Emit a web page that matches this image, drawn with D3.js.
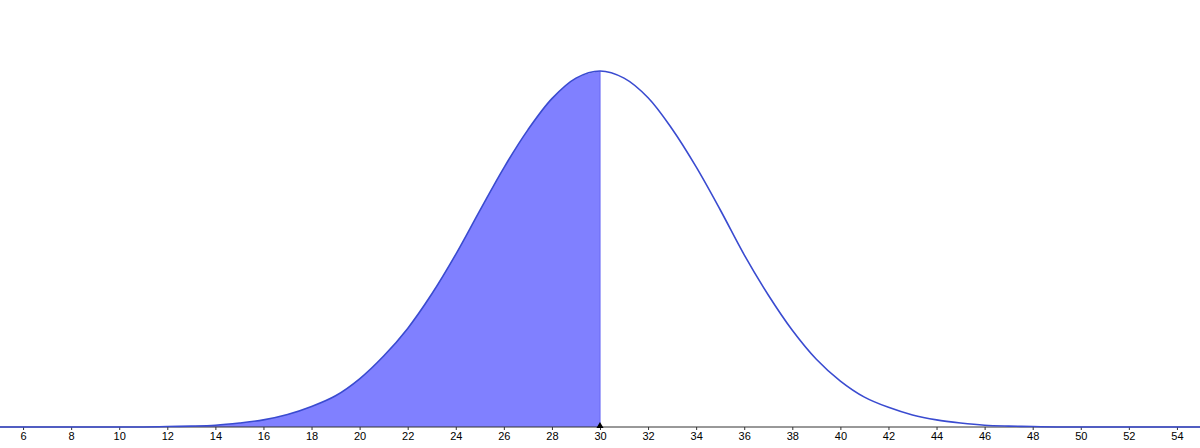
<!DOCTYPE html>
<html>
<head>
<meta charset="utf-8">
<script src="https://cdn.jsdelivr.net/npm/d3@7"></script>
<style>
  html, body { margin: 0; padding: 0; background: #fff; }
  svg { display: block; }
</style>
</head>
<body>
<svg id="chart" width="1200" height="448"></svg>
<script>
// x values (integers) and curve heights (density units)
const xValues = [5,6,7,8,9,10,11,12,13,14,15,16,17,18,19,20,21,22,23,24,25,26,27,28,29,30,
                 31,32,33,34,35,36,37,38,39,40,41,42,43,44,45,46,47,48,49,50,51,52,53,54,55];
const density = [0,0,0,0,0,0,0,0.0001,0.0002,0.0004,0.0009,0.0016,0.0028,0.0046,0.0070,0.0108,0.0159,0.0221,0.0298,0.0387,0.0485,0.0581,0.0666,0.0736,0.0782,0.0798,
                 0.0782,0.0738,0.0668,0.0583,0.0487,0.0386,0.0296,0.0217,0.0152,0.0103,0.0067,0.0044,0.0027,0.0016,0.0009,0.0004,0.0002,0.0001,0,0,0,0,0,0,0];
const tickValues = [6,8,10,12,14,16,18,20,22,24,26,28,30,32,34,36,38,40,42,44,46,48,50,52,54];
const shadeTo = 30;

const W = 1200, H = 448;
const svg = d3.select("#chart");

const x = d3.scaleLinear().domain([5.04, 54.96]).range([0, W]);
const y = d3.scaleLinear().domain([0, 0.0798]).range([427, 71]);

const pts = xValues.map((v, i) => ({x: v, y: density[i]}));
const leftPts = pts.filter(d => d.x <= shadeTo);
const curve = d3.curveCatmullRom.alpha(0.5);

// shaded area
svg.append("path")
  .datum(leftPts)
  .attr("fill", "#8080ff")
  .attr("stroke", "none")
  .attr("d", d3.area().x(d => x(d.x)).y0(y(0)).y1(d => Math.min(y(0), y(d.y))).curve(curve));

// vertical boundary at shadeTo
svg.append("line")
  .attr("x1", x(shadeTo)).attr("x2", x(shadeTo))
  .attr("y1", y(0)).attr("y2", y(density[xValues.indexOf(shadeTo)]))
  .attr("stroke", "#6f6ff5").attr("stroke-width", 1.2);

// axis
const axisG = svg.append("g")
  .attr("transform", `translate(0,${y(0)})`)
  .call(d3.axisBottom(x).tickValues(tickValues).tickSize(3).tickPadding(2).tickFormat(d3.format("d")));
axisG.select(".domain").remove();
axisG.selectAll(".tick line").attr("stroke", "#333");
axisG.selectAll(".tick text")
  .attr("fill", "#000")
  .style("font-family", "'Liberation Sans', Arial, sans-serif")
  .style("font-size", "11px");
svg.append("line")
  .attr("x1", 0).attr("x2", W)
  .attr("y1", y(0)).attr("y2", y(0))
  .attr("stroke", "#333").attr("stroke-width", 1);

// curve
svg.append("path")
  .datum(pts)
  .attr("fill", "none")
  .attr("stroke", "#3a4bd0")
  .attr("stroke-width", 1.6)
  .attr("d", d3.line().x(d => x(d.x)).y(d => Math.min(y(0), y(d.y))).curve(curve));

// point marker on axis
svg.append("path")
  .attr("d", d3.symbol(d3.symbolTriangle, 22)())
  .attr("transform", `translate(${x(shadeTo)},${y(0) - 1})`)
  .attr("fill", "#000");
</script>
</body>
</html>
